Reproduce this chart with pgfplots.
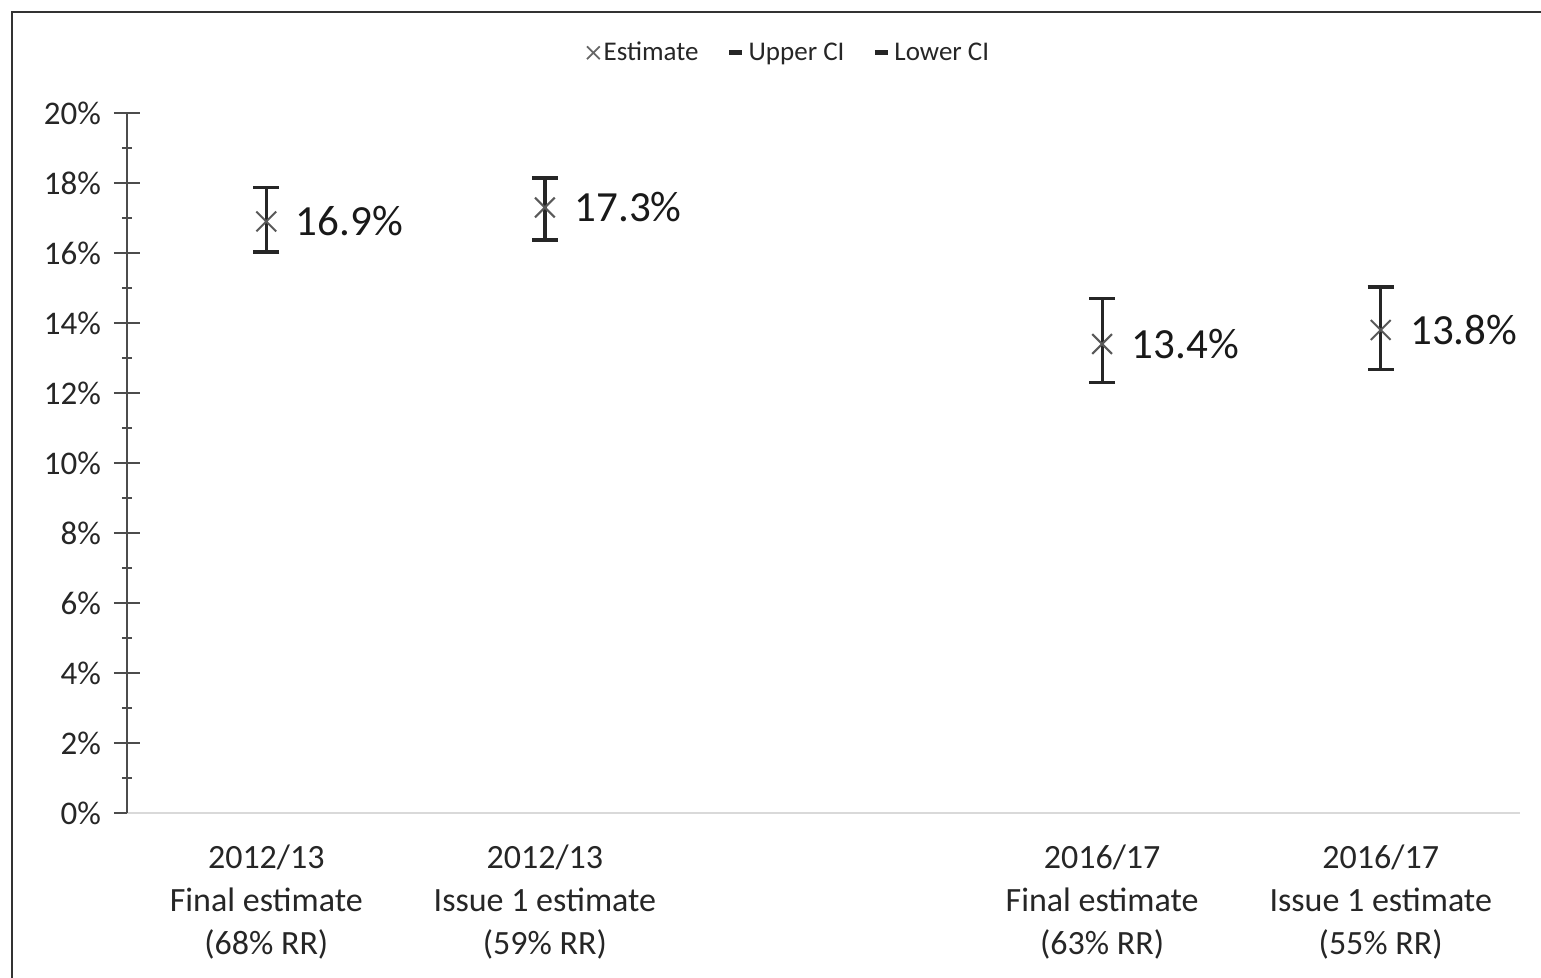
\documentclass[border=0pt]{standalone}
\usepackage{pgfplots}
\pgfplotsset{compat=1.18}
\usepackage{fontspec}
\setmainfont{Carlito}
\begin{document}
\begin{tikzpicture}
\path[use as bounding box] (-63.5pt,-82.5pt) rectangle (707pt,406.5pt);
\draw[line width=1pt, black!80] (-57.5pt,-82.5pt) -- (-57.5pt,400.5pt) -- (707pt,400.5pt);
\begin{axis}[
  at={(0,0)}, anchor=south west, scale only axis, width=696.5pt, height=350pt,
  xmin=0.5, xmax=5.5, ymin=0, ymax=20,
  axis lines*=left,
  clip=false,
  xtick={1,2,4,5},
  xticklabels={{2012/13\\Final estimate\\(68\% RR)},{2012/13\\Issue 1 estimate\\(59\% RR)},{2016/17\\Final estimate\\(63\% RR)},{2016/17\\Issue 1 estimate\\(55\% RR)}},
  xticklabel style={align=center, font=\fontsize{17}{21.5}\selectfont, text=black!85, yshift=-6pt},
  x axis line style={draw=black!15, line width=1pt},
  major x tick style={draw=none},
  ytick={0,2,...,20},
  yticklabel={\pgfmathprintnumber{\tick}\%},
  yticklabel style={font=\fontsize{16.5}{19}\selectfont, text=black!85, xshift=-3pt},
  /pgf/number format/assume math mode=true,
  minor y tick num=1,
  y axis line style={draw=black!70, line width=1.2pt},
  ytick style={draw=black!70, line width=1pt},
  tick align=center,
  major tick length=13pt,
  minor tick length=5pt,
  legend style={at={(0.476,1.086)}, anchor=center, draw=none, fill=none, legend columns=3,
    font=\fontsize{13.5}{15}\selectfont, text=black!85,
    /tikz/every even column/.append style={column sep=12pt}},
  legend cell align=left,
]
\addlegendimage{only marks, mark=x, mark size=4.5pt, mark options={draw=black!60, line width=0.9pt}}
\addlegendentry{Estimate}
\addlegendimage{legend image code/.code={\draw[line width=2.5pt, black!85] (0pt,0pt) -- (6.5pt,0pt);}}
\addlegendentry{Upper CI}
\addlegendimage{legend image code/.code={\draw[line width=2.5pt, black!85] (0pt,0pt) -- (6.5pt,0pt);}}
\addlegendentry{Lower CI}
\addplot[forget plot, only marks, mark=x, mark size=7pt,
  mark options={draw=black!65, line width=1pt},
  point meta=y,
  nodes near coords={\pgfmathprintnumber[fixed, precision=1, fixed zerofill]{\pgfplotspointmeta}\%},
  every node near coord/.append style={anchor=west, xshift=11pt, font=\fontsize{21.5}{24}\selectfont, text=black!90},
  error bars/.cd, y dir=both, y explicit,
  error bar style={line width=1.6pt, black!85},
  error mark options={rotate=90, mark size=6.5pt, line width=1.6pt, black!85}]
  table[x=x, y=y, y error plus=ep, y error minus=em] {
x y ep em
1 16.9 0.96 0.87
2 17.3 0.84 0.93
4 13.4 1.29 1.11
5 13.8 1.23 1.14
};
\end{axis}
\end{tikzpicture}
\end{document}
